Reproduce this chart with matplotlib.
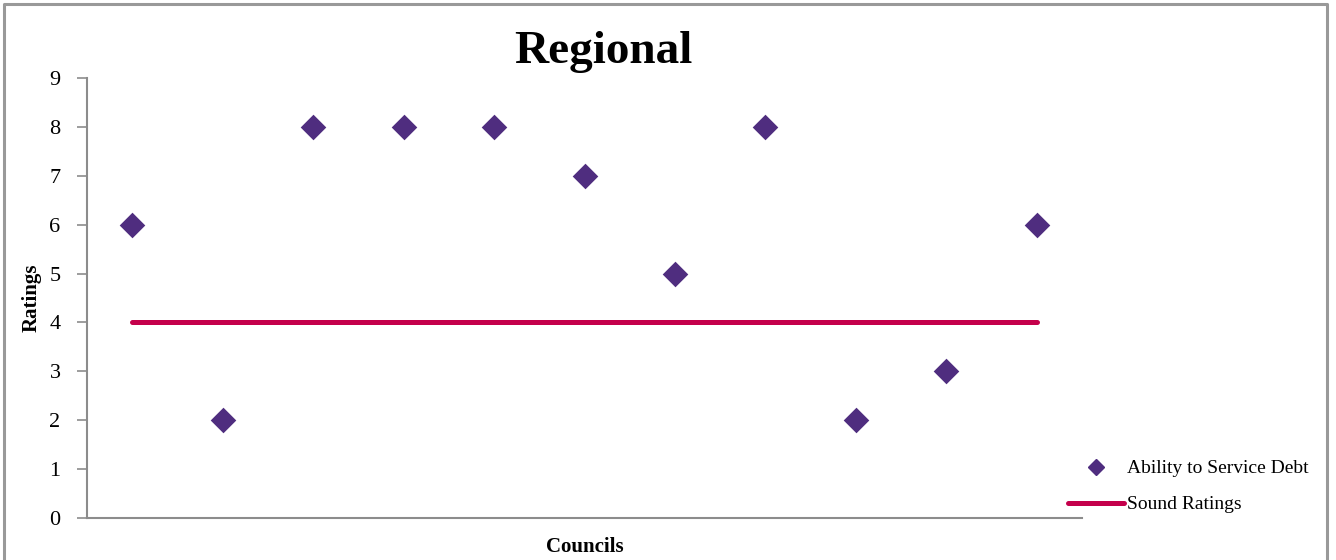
import matplotlib.pyplot as plt
from matplotlib.lines import Line2D

# Ratings per council and the sound-rating benchmark
councils = list(range(1, 12))
ability_ratings = [6, 2, 8, 8, 8, 7, 5, 8, 2, 3, 6]
sound_rating = [4] * len(councils)
y_ticks = list(range(0, 10))

purple = '#4F2D7F'
crimson = '#C4004B'
grey = '#8C8C8C'

plt.rcParams['font.family'] = ['Liberation Serif', 'DejaVu Serif']

fig = plt.figure(figsize=(13.36, 5.6), dpi=100)
W, H = 1336, 560

# Outer chart frame (open at the bottom)
frame = Line2D([4 / W, 4 / W, 1327 / W, 1327 / W],
               [0, 1 - 4 / H, 1 - 4 / H, 0],
               transform=fig.transFigure, color='#999999', linewidth=2.2)
fig.add_artist(frame)

ax = fig.add_axes([87 / W, (H - 518) / H, (1082 - 87) / W, (518 - 78) / H])

ax.plot(councils, sound_rating, color=crimson, linewidth=3.6,
        solid_capstyle='round', label='Sound Ratings', zorder=2)
ax.scatter(councils, ability_ratings, marker='D', s=170, color=purple,
           linewidths=0, label='Ability to Service Debt', zorder=3)

ax.set_xlim(0.5, 11.5)
ax.set_ylim(0, 9)
ax.set_yticks(y_ticks)
ax.set_xticks([])
ax.tick_params(axis='y', direction='out', length=7, width=1.2, color=grey,
               labelsize=16, pad=12)

for side in ('top', 'right'):
    ax.spines[side].set_visible(False)
for side in ('left', 'bottom'):
    ax.spines[side].set_color(grey)
    ax.spines[side].set_linewidth(1.5)

ax.set_ylabel('Ratings', fontsize=15, fontweight='bold', labelpad=6)
ax.set_xlabel('Councils', fontsize=15, fontweight='bold', labelpad=14)
fig.text(603 / W, 1 - 52 / H, 'Regional', fontsize=34, fontweight='bold',
         ha='center', va='center')

# Legend placed to the right of the plot area
leg_handles = [
    Line2D([], [], marker='D', linestyle='none', color=purple, markersize=8),
    Line2D([], [], color=crimson, linewidth=3.6, solid_capstyle='round'),
]
fig.legend(leg_handles, ['Ability to Service Debt', 'Sound Ratings'],
           loc='upper left', bbox_to_anchor=(1060 / W, 1 - 452 / H),
           frameon=False, fontsize=14, handlelength=2.9, handletextpad=0.15,
           labelspacing=0.95, borderaxespad=0)

fig.savefig('out.png', dpi=100)
